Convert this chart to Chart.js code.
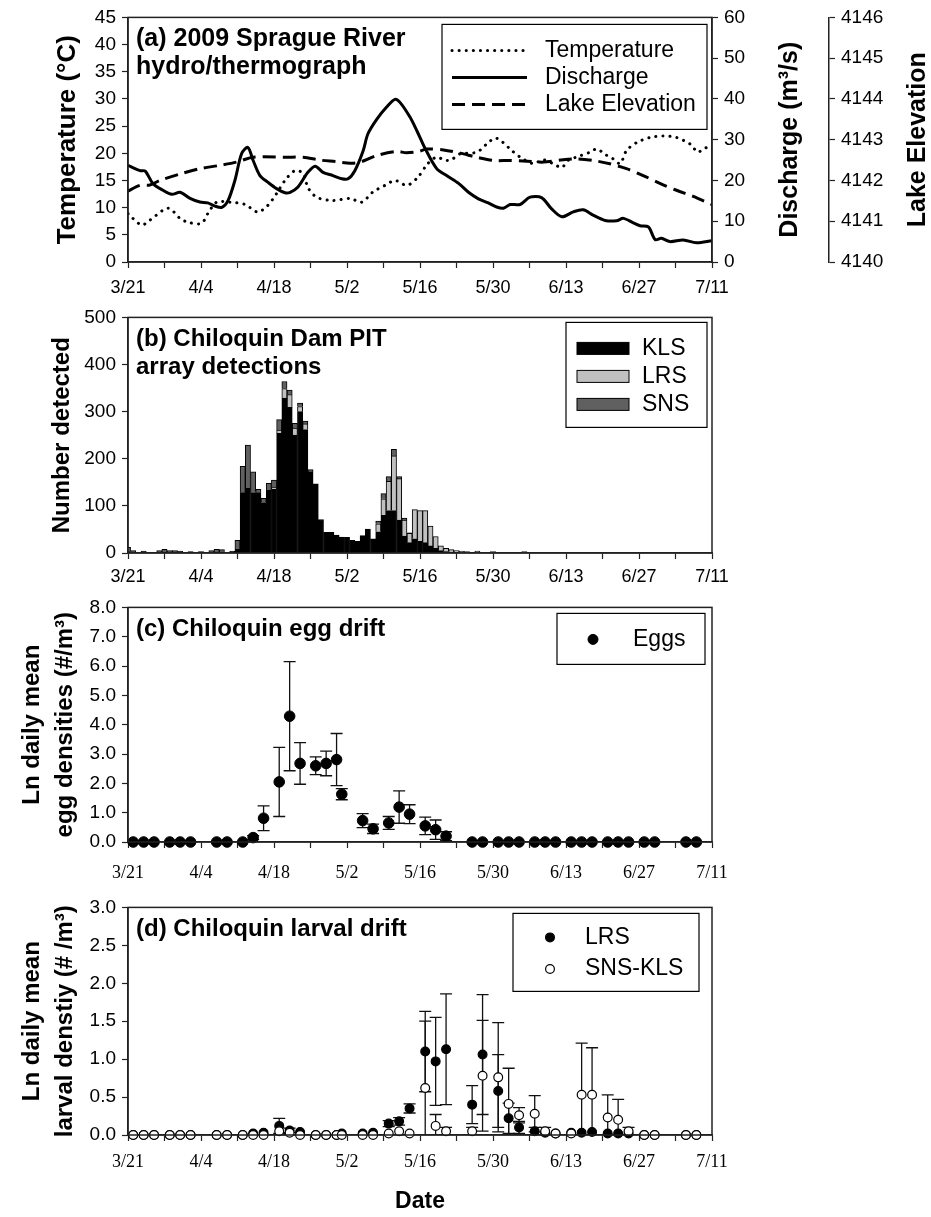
<!DOCTYPE html>
<html>
<head>
<meta charset="utf-8">
<script src="https://cdn.jsdelivr.net/npm/chart.js@4.4.1/dist/chart.umd.min.js"></script>
<style>
    html, body { margin: 0; padding: 0; background: #fff; }
    #wrap { position: relative; width: 931px; height: 1217px; }
    .panel { position: absolute; left: 0; width: 931px; }
</style>
</head>
<body>
<div id="wrap">
    <div class="panel" style="top:0;height:300px"><canvas id="chartA"></canvas></div>
    <div class="panel" style="top:300px;height:290px"><canvas id="chartB"></canvas></div>
    <div class="panel" style="top:590px;height:300px"><canvas id="chartC"></canvas></div>
    <div class="panel" style="top:890px;height:327px"><canvas id="chartD"></canvas></div>
</div>
<script>
// x values are days after 3/21 (2009)
var dateTicks = ['3/21', '4/4', '4/18', '5/2', '5/16', '5/30', '6/13', '6/27', '7/11'];

// (a) hydro/thermograph
var tempDay = [0, 2.6, 4.2, 7.7, 10, 11.5, 14.1, 15.3, 17, 19.6, 22.4, 24.9, 26.8, 28.5, 30.1, 32, 33.6, 34.5, 36.2, 39.3,
    42.6, 44.8, 47, 49.3, 51.2, 53.5, 55.6, 57.5, 59.2, 60.8, 62, 63.7, 66.9, 68.8, 70.4, 71.9, 73.6, 75.2, 77.7, 79.6,
    81.5, 83.2, 84.4, 86, 88.6, 89.9, 91.5, 93, 94.4, 95.6, 97.6, 100.1, 102.6, 105.2, 107.8, 109.3, 110.3, 112];
var tempC = [8.9, 6.8, 7.7, 9.9, 8.0, 7.3, 7.1, 8.9, 11.0, 11.0, 10.6, 9.2, 10.4, 12.6, 15.0, 16.8, 16.3, 13.7, 11.9, 11.3,
    11.7, 11.0, 12.9, 14.1, 15.0, 14.1, 15.6, 18.1, 19.3, 18.7, 18.8, 19.9, 20.2, 21.7, 22.8, 22.0, 20.5, 19.3, 18.1, 18.8,
    18.1, 17.4, 18.7, 19.3, 20.2, 20.8, 19.8, 19.0, 18.1, 20.5, 22.0, 22.9, 23.2, 22.9, 21.7, 20.2, 20.8, 21.4];

var flowDay = [0, 2.3, 3.3, 4.8, 6.7, 8.4, 10, 11.9, 13.8, 15.3, 16.7, 18, 19.2, 20.5, 21.8, 23, 24, 25.3, 26.8, 28.5,
    30.1, 31.1, 32.6, 34.5, 35.9, 37.4, 39.3, 41, 42.2, 43.5, 45.1, 46, 47.7, 49.6, 51.2, 52.2, 54.1, 55.4, 57, 59.2,
    61.1, 63.4, 65.3, 67.2, 69.1, 70.7, 72, 73.3, 75.2, 77.1, 79.3, 81.2, 83.2, 85.4, 87.3, 89.2, 91.5, 93.7, 95, 96.9,
    98.2, 99.8, 101.1, 102.3, 103.9, 106.5, 109, 112];
var flowCms = [23.7, 22.4, 22.3, 19.2, 17.6, 16.6, 17.1, 15.6, 14.7, 14.5, 13.7, 13.4, 15.1, 20.0, 26.6, 28.1, 24.9, 21.2, 19.6, 18.0,
    17.0, 17.1, 18.4, 22.0, 23.5, 22.0, 21.2, 20.4, 20.4, 22.4, 27.3, 31.4, 35.0, 38.0, 39.9, 39.1, 35.5, 32.2, 27.8, 22.9,
    21.2, 19.3, 17.1, 15.5, 14.5, 13.5, 13.2, 14.1, 14.1, 15.9, 15.8, 13.1, 11.1, 12.3, 12.8, 11.5, 10.2, 10.1, 10.7, 9.6,
    8.9, 8.6, 5.5, 5.8, 5.0, 5.4, 4.7, 5.2];

var lakeDay = [0, 2.3, 4.2, 6.1, 10, 13.8, 17.6, 20.8, 24, 30.4, 33.6, 36.8, 40, 42.6, 44.5, 47.7, 51.5, 53.4, 55.7, 57.3,
    60.5, 63.7, 66.9, 70.1, 73.3, 76.5, 79.7, 82.9, 86, 89.2, 92.4, 95.6, 98.8, 102, 105.2, 108.4, 112];
var lakeFt = [4141.74, 4141.88, 4141.89, 4142.0, 4142.16, 4142.29, 4142.37, 4142.45, 4142.57, 4142.57, 4142.57, 4142.50,
    4142.46, 4142.42, 4142.45, 4142.61, 4142.71, 4142.68, 4142.71, 4142.77, 4142.75, 4142.67, 4142.57, 4142.49, 4142.49,
    4142.47, 4142.45, 4142.50, 4142.53, 4142.49, 4142.41, 4142.29, 4142.12, 4141.93, 4141.76, 4141.61, 4141.41];

// (b) PIT detections per day
var barDay = [0, 1, 3, 6, 7, 8, 9, 10, 12, 14, 16, 17, 18, 20,
    21, 22, 23, 24, 25, 26, 27, 28, 29, 30, 31, 32, 33, 34, 35, 36, 37, 38, 39, 40, 41, 42, 43,
    44, 45, 46, 47, 48, 49, 50, 51, 52, 53, 54, 55, 56, 57, 58, 59, 60, 61, 62, 63, 64, 65, 67, 70, 76];
var klsCount = [3, 1, 1, 1, 2, 1, 1, 1, 1, 1, 1, 2, 2, 1,
    8, 128, 137, 128, 128, 107, 133, 135, 254, 329, 309, 250, 300, 262, 172, 147, 71, 44, 44, 38, 34, 33, 27,
    25, 37, 51, 30, 45, 80, 90, 90, 70, 36, 22, 30, 25, 22, 15, 10, 5, 3, 2, 2, 1, 1, 1, 1, 1];
var lrsCount = [0, 0, 0, 0, 0, 0, 0, 0, 0, 0, 0, 0, 0, 0,
    0, 0, 0, 2, 0, 0, 0, 5, 7, 20, 27, 15, 11, 12, 0, 0, 0, 0, 0, 0, 0, 0, 0,
    0, 0, 0, 0, 17, 35, 62, 116, 88, 34, 20, 62, 65, 68, 42, 25, 10, 7, 5, 3, 3, 2, 3, 2, 2];
var snsCount = [9, 4, 3, 4, 6, 4, 4, 3, 2, 2, 4, 6, 5, 3,
    19, 56, 92, 42, 7, 9, 15, 15, 22, 15, 10, 10, 7, 6, 5, 0, 0, 0, 0, 0, 0, 0, 0,
    0, 0, 0, 0, 6, 11, 10, 14, 4, 4, 1, 0, 0, 0, 0, 0, 0, 0, 0, 0, 0, 0, 0, 0, 0];

// (c), (d) drift sampling days
var sampleDay = [1, 3, 5, 8, 10, 12, 17, 19, 22, 24, 26, 29, 31, 33, 36, 38, 40, 41, 45, 47, 50, 52,
    54, 57, 59, 61, 66, 68, 71, 73, 75, 78, 80, 82, 85, 87, 89, 92, 94, 96, 99, 101, 107, 109];
var eggMean = [0, 0, 0, 0, 0, 0, 0, 0, 0, 0.15, 0.81, 2.05, 4.29, 2.68, 2.6, 2.68, 2.81, 1.63, 0.73, 0.45, 0.65, 1.19,
    0.95, 0.55, 0.42, 0.2, 0, 0, 0, 0, 0, 0, 0, 0, 0, 0, 0, 0, 0, 0, 0, 0, 0, 0];
var eggSd = [0, 0, 0, 0, 0, 0, 0, 0, 0, 0.07, 0.42, 1.18, 1.86, 0.71, 0.3, 0.42, 0.89, 0.19, 0.24, 0.16, 0.22, 0.55,
    0.32, 0.3, 0.33, 0.15, 0, 0, 0, 0, 0, 0, 0, 0, 0, 0, 0, 0, 0, 0, 0, 0, 0, 0];
var lrsMean = [0, 0, 0, 0, 0, 0, 0, 0, 0, 0.02, 0.03, 0.12, 0.06, 0.04, 0, 0, 0, 0.02, 0.02, 0.03, 0.15, 0.18,
    0.35, 1.10, 0.97, 1.13, 0.40, 1.06, 0.58, 0.22, 0.10, 0.05, 0.03, 0.02, 0.03, 0.03, 0.04, 0.02, 0.02, 0.02, 0, 0, 0, 0];
var lrsSd = [0, 0, 0, 0, 0, 0, 0, 0, 0, 0, 0, 0.10, 0.03, 0, 0, 0, 0, 0, 0, 0, 0.04, 0.05,
    0.06, 0.53, 0.58, 0.73, 0.25, 0.79, 0.48, 0.20, 0.08, 0.05, 0, 0, 0, 0, 0, 0, 0, 0, 0, 0, 0, 0];
var snsKlsMean = [0, 0, 0, 0, 0, 0, 0, 0, 0, 0, 0, 0.05, 0.03, 0, 0, 0, 0, 0, 0, 0, 0.02, 0.05,
    0.02, 0.62, 0.12, 0.05, 0.05, 0.78, 0.76, 0.41, 0.26, 0.28, 0.05, 0.02, 0.02, 0.53, 0.53, 0.23, 0.20, 0.05, 0, 0, 0, 0];
var snsKlsSd = [0, 0, 0, 0, 0, 0, 0, 0, 0, 0, 0, 0, 0, 0, 0, 0, 0, 0, 0, 0, 0, 0,
    0, 0.88, 0.15, 0.05, 0.05, 0.73, 0.72, 0.47, 0.10, 0.24, 0.05, 0, 0, 0.68, 0.62, 0.30, 0.27, 0.05, 0, 0, 0, 0];

var sans = "'Liberation Sans', Arial, sans-serif";
var serif = "'Liberation Serif', 'Times New Roman', serif";

Chart.defaults.font.family = sans;
Chart.defaults.color = '#000';
Chart.defaults.animation = false;
Chart.defaults.plugins.legend.display = false;
Chart.defaults.plugins.tooltip.enabled = false;

function pts(xs, ys) {
    return xs.map(function (x, i) { return { x: x, y: ys[i] }; });
}
function barPts(xs, ys) {
    return xs.map(function (x, i) { return { x: x, y: ys[i] > 0 ? ys[i] : null }; });
}

// box around the plot area
var frame = {
    id: 'frame',
    afterDatasetsDraw: function (chart) {
        var a = chart.chartArea, ctx = chart.ctx;
        ctx.save();
        ctx.strokeStyle = '#222';
        ctx.lineWidth = 1.5;
        ctx.strokeRect(a.left, a.top, a.right - a.left, a.bottom - a.top);
        ctx.restore();
    }
};

// panel heading in the top-left corner
var panelText = {
    id: 'panelText',
    afterDraw: function (chart, args, o) {
        var a = chart.chartArea, ctx = chart.ctx;
        ctx.save();
        ctx.font = 'bold ' + (o.size || 24) + 'px ' + sans;
        ctx.fillStyle = '#000';
        ctx.textBaseline = 'alphabetic';
        o.lines.forEach(function (t, i) {
            ctx.fillText(t, a.left + 8, a.top + 29 + i * 27.5);
        });
        ctx.restore();
    }
};

// boxed legend inside the plot area
var boxLegend = {
    id: 'boxLegend',
    afterDraw: function (chart, args, o) {
        var a = chart.chartArea, ctx = chart.ctx;
        var left = a.right - o.right - o.width, top = a.top + o.top;
        var type = chart.config.type;
        ctx.save();
        ctx.fillStyle = '#fff';
        ctx.fillRect(left, top, o.width, o.height);
        ctx.strokeStyle = '#000';
        ctx.lineWidth = 1.2;
        ctx.strokeRect(left, top, o.width, o.height);
        chart.data.datasets.forEach(function (ds, i) {
            var y = top + o.firstRow + i * o.rowH;
            var sx = left + o.sampleX;
            ctx.save();
            if (type === 'line') {
                ctx.strokeStyle = ds.borderColor;
                ctx.lineWidth = ds.borderWidth;
                ctx.lineCap = ds.borderCapStyle || 'butt';
                ctx.setLineDash(ds.borderDash || []);
                ctx.beginPath();
                ctx.moveTo(sx, y);
                ctx.lineTo(sx + o.sampleW, y);
                ctx.stroke();
            } else if (type === 'bar') {
                ctx.fillStyle = ds.backgroundColor;
                ctx.fillRect(sx, y - 6, o.sampleW, 12);
                ctx.strokeStyle = '#000';
                ctx.lineWidth = 1;
                ctx.strokeRect(sx, y - 6, o.sampleW, 12);
            } else {
                ctx.fillStyle = ds.pointBackgroundColor;
                ctx.strokeStyle = ds.pointBorderColor;
                ctx.lineWidth = ds.pointBorderWidth;
                ctx.beginPath();
                ctx.arc(sx, y, o.markR, 0, Math.PI * 2);
                ctx.fill();
                ctx.stroke();
            }
            ctx.restore();
            ctx.font = '23px ' + sans;
            ctx.fillStyle = '#000';
            ctx.textBaseline = 'middle';
            ctx.fillText(ds.label, left + o.textX, y);
        });
        ctx.restore();
    }
};

// vertical error bars (mean +/- SD) from dataset.errors
var errorBars = {
    id: 'errorBars',
    beforeDatasetsDraw: function (chart) {
        var a = chart.chartArea, ctx = chart.ctx;
        var xs = chart.scales.x, ys = chart.scales.y;
        ctx.save();
        ctx.beginPath();
        ctx.rect(a.left, a.top - 2, a.right - a.left, a.bottom - a.top + 2);
        ctx.clip();
        ctx.strokeStyle = '#111';
        ctx.lineWidth = 1.3;
        chart.data.datasets.forEach(function (ds) {
            if (!ds.errors) return;
            ds.data.forEach(function (p, i) {
                var e = ds.errors[i];
                if (!e) return;
                var x = xs.getPixelForValue(p.x);
                var hi = ys.getPixelForValue(p.y + e);
                var lo = ys.getPixelForValue(p.y - e);
                ctx.beginPath();
                ctx.moveTo(x, hi); ctx.lineTo(x, lo);
                ctx.moveTo(x - 6, hi); ctx.lineTo(x + 6, hi);
                ctx.moveTo(x - 6, lo); ctx.lineTo(x + 6, lo);
                ctx.stroke();
            });
        });
        ctx.restore();
    }
};

// right-hand axis titles, read bottom to top
var sideTitles = {
    id: 'sideTitles',
    afterDraw: function (chart, args, o) {
        var ctx = chart.ctx;
        (o.items || []).forEach(function (it) {
            var s = chart.scales[it.axis];
            ctx.save();
            ctx.translate(s.left + it.dx, (s.top + s.bottom) / 2);
            ctx.rotate(-Math.PI / 2);
            ctx.font = 'bold 25px ' + sans;
            ctx.fillStyle = '#000';
            ctx.textAlign = 'center';
            ctx.textBaseline = 'middle';
            ctx.fillText(it.text, 0, 0);
            ctx.restore();
        });
    }
};

function dayAxis(family, height, pad, title) {
    return {
        type: 'linear', min: 0, max: 112, offset: false,
        afterFit: function (s) { s.height = height; },
        border: { display: true, color: '#222', width: 1.5 },
        grid: { display: true, offset: false, drawOnChartArea: false, drawTicks: true, tickLength: 6, tickColor: '#222', tickWidth: 1.2 },
        ticks: {
            stepSize: 7, autoSkip: false, maxRotation: 0, padding: pad,
            font: { family: family, size: 18 },
            callback: function (v) { return v % 14 === 0 ? dateTicks[v / 14] : ''; }
        },
        title: title || { display: false }
    };
}

function valueAxis(pos, min, max, step, width, fmt, title) {
    return {
        type: 'linear', position: pos, min: min, max: max,
        afterFit: function (s) { s.width = width; },
        border: { display: true, color: '#222', width: 1.5 },
        grid: { display: true, drawOnChartArea: false, drawTicks: true, tickLength: 6, tickColor: '#222', tickWidth: 1.2 },
        ticks: { stepSize: step, padding: 6, font: { size: 19 }, callback: fmt },
        title: title || { display: false }
    };
}

function leftTitle(text, size, pad, lh) {
    return { display: true, text: text, padding: { top: pad, bottom: 0 }, font: { size: size, weight: 'bold', lineHeight: lh } };
}

var intFmt = function (v) { return String(v); };
var oneFmt = function (v) { return v.toFixed(1); };

// (a)
new Chart(document.getElementById('chartA'), {
    type: 'line',
    data: {
        datasets: [
            { label: 'Temperature', data: pts(tempDay, tempC), yAxisID: 'y', borderColor: '#000', borderWidth: 3,
              borderDash: [0.1, 7], borderCapStyle: 'round', pointRadius: 0, tension: 0.3, fill: false },
            { label: 'Discharge', data: pts(flowDay, flowCms), yAxisID: 'y2', borderColor: '#000', borderWidth: 3,
              pointRadius: 0, tension: 0.3, fill: false },
            { label: 'Lake Elevation', data: pts(lakeDay, lakeFt), yAxisID: 'y3', borderColor: '#000', borderWidth: 3,
              borderDash: [13, 7], pointRadius: 0, tension: 0.3, fill: false }
        ]
    },
    options: {
        responsive: true, maintainAspectRatio: false,
        layout: { padding: { top: 16, right: 0, left: 0, bottom: 0 } },
        scales: {
            x: dayAxis(sans, 38, 9),
            y: valueAxis('left', 0, 45, 5, 128, intFmt, leftTitle('Temperature (°C)', 26, 52, 1.2)),
            y2: valueAxis('right', 0, 60, 10, 117, intFmt),
            y3: valueAxis('right', 4140, 4146, 1, 102, intFmt)
        },
        plugins: {
            panelText: { size: 25, lines: ['(a) 2009 Sprague River', 'hydro/thermograph'] },
            boxLegend: { right: 5, top: 7, width: 265, height: 105, firstRow: 26, rowH: 27, sampleX: 10, sampleW: 75, textX: 103 },
            sideTitles: { items: [{ axis: 'y2', dx: 78, text: 'Discharge (m³/s)' }, { axis: 'y3', dx: 89, text: 'Lake Elevation' }] }
        }
    },
    plugins: [frame, panelText, boxLegend, sideTitles]
});

// (b)
new Chart(document.getElementById('chartB'), {
    type: 'bar',
    data: {
        datasets: [
            { label: 'KLS', data: barPts(barDay, klsCount), backgroundColor: '#000', borderColor: '#000', borderWidth: 1 },
            { label: 'LRS', data: barPts(barDay, lrsCount), backgroundColor: '#c0c0c0', borderColor: '#000', borderWidth: 1 },
            { label: 'SNS', data: barPts(barDay, snsCount), backgroundColor: '#606060', borderColor: '#000', borderWidth: 1 }
        ]
    },
    options: {
        responsive: true, maintainAspectRatio: false,
        layout: { padding: { top: 9, right: 219, left: 0, bottom: 0 } },
        datasets: { bar: { barPercentage: 1, categoryPercentage: 1 } },
        scales: {
            x: Object.assign(dayAxis(sans, 37, 7), { stacked: true }),
            y: Object.assign(valueAxis('left', 0, 500, 100, 128, intFmt, leftTitle('Number detected', 24, 48, 1.2)), { stacked: true })
        },
        plugins: {
            panelText: { lines: ['(b) Chiloquin Dam PIT', 'array detections'] },
            boxLegend: { right: 5, top: 5, width: 141, height: 105, firstRow: 26, rowH: 28, sampleX: 11, sampleW: 52, textX: 76 }
        }
    },
    plugins: [frame, panelText, boxLegend]
});

// (c)
new Chart(document.getElementById('chartC'), {
    type: 'scatter',
    data: {
        datasets: [
            { label: 'Eggs', data: pts(sampleDay, eggMean), errors: eggSd, pointRadius: 5.3, pointBackgroundColor: '#000',
              pointBorderColor: '#000', pointBorderWidth: 1, clip: false }
        ]
    },
    options: {
        responsive: true, maintainAspectRatio: false,
        layout: { padding: { top: 10, right: 219, left: 0, bottom: 0 } },
        scales: {
            x: dayAxis(serif, 48, 14),
            y: valueAxis('left', 0, 8, 1, 128, oneFmt, leftTitle(['Ln daily mean', 'egg densities (#/m³)'], 24, 15.5, 1.375))
        },
        plugins: {
            panelText: { lines: ['(c) Chiloquin egg drift'] },
            boxLegend: { right: 7, top: 6, width: 148, height: 51, firstRow: 26, rowH: 30, sampleX: 36, markR: 5, textX: 76 }
        }
    },
    plugins: [frame, errorBars, panelText, boxLegend]
});

// (d)
new Chart(document.getElementById('chartD'), {
    type: 'scatter',
    data: {
        datasets: [
            { label: 'LRS', data: pts(sampleDay, lrsMean), errors: lrsSd, order: 1, pointRadius: 4.4,
              pointBackgroundColor: '#000', pointBorderColor: '#000', pointBorderWidth: 1.2, clip: false },
            { label: 'SNS-KLS', data: pts(sampleDay, snsKlsMean), errors: snsKlsSd, order: 0, pointRadius: 4.4,
              pointBackgroundColor: '#fff', pointBorderColor: '#000', pointBorderWidth: 1.2, clip: false }
        ]
    },
    options: {
        responsive: true, maintainAspectRatio: false,
        layout: { padding: { top: 2, right: 219, left: 0, bottom: 0 } },
        scales: {
            x: dayAxis(serif, 82, 10, { display: true, text: 'Date', padding: { top: 0, bottom: 2 }, font: { size: 23, weight: 'bold' } }),
            y: valueAxis('left', 0, 3, 0.5, 128, oneFmt, leftTitle(['Ln daily mean', 'larval denstiy (# /m³)'], 24, 15.5, 1.375))
        },
        plugins: {
            panelText: { lines: ['(d) Chiloquin larval drift'] },
            boxLegend: { right: 13, top: 6, width: 186, height: 78, firstRow: 24, rowH: 31.6, sampleX: 37, markR: 4.4, textX: 72 }
        }
    },
    plugins: [frame, errorBars, panelText, boxLegend]
});
</script>
</body>
</html>
